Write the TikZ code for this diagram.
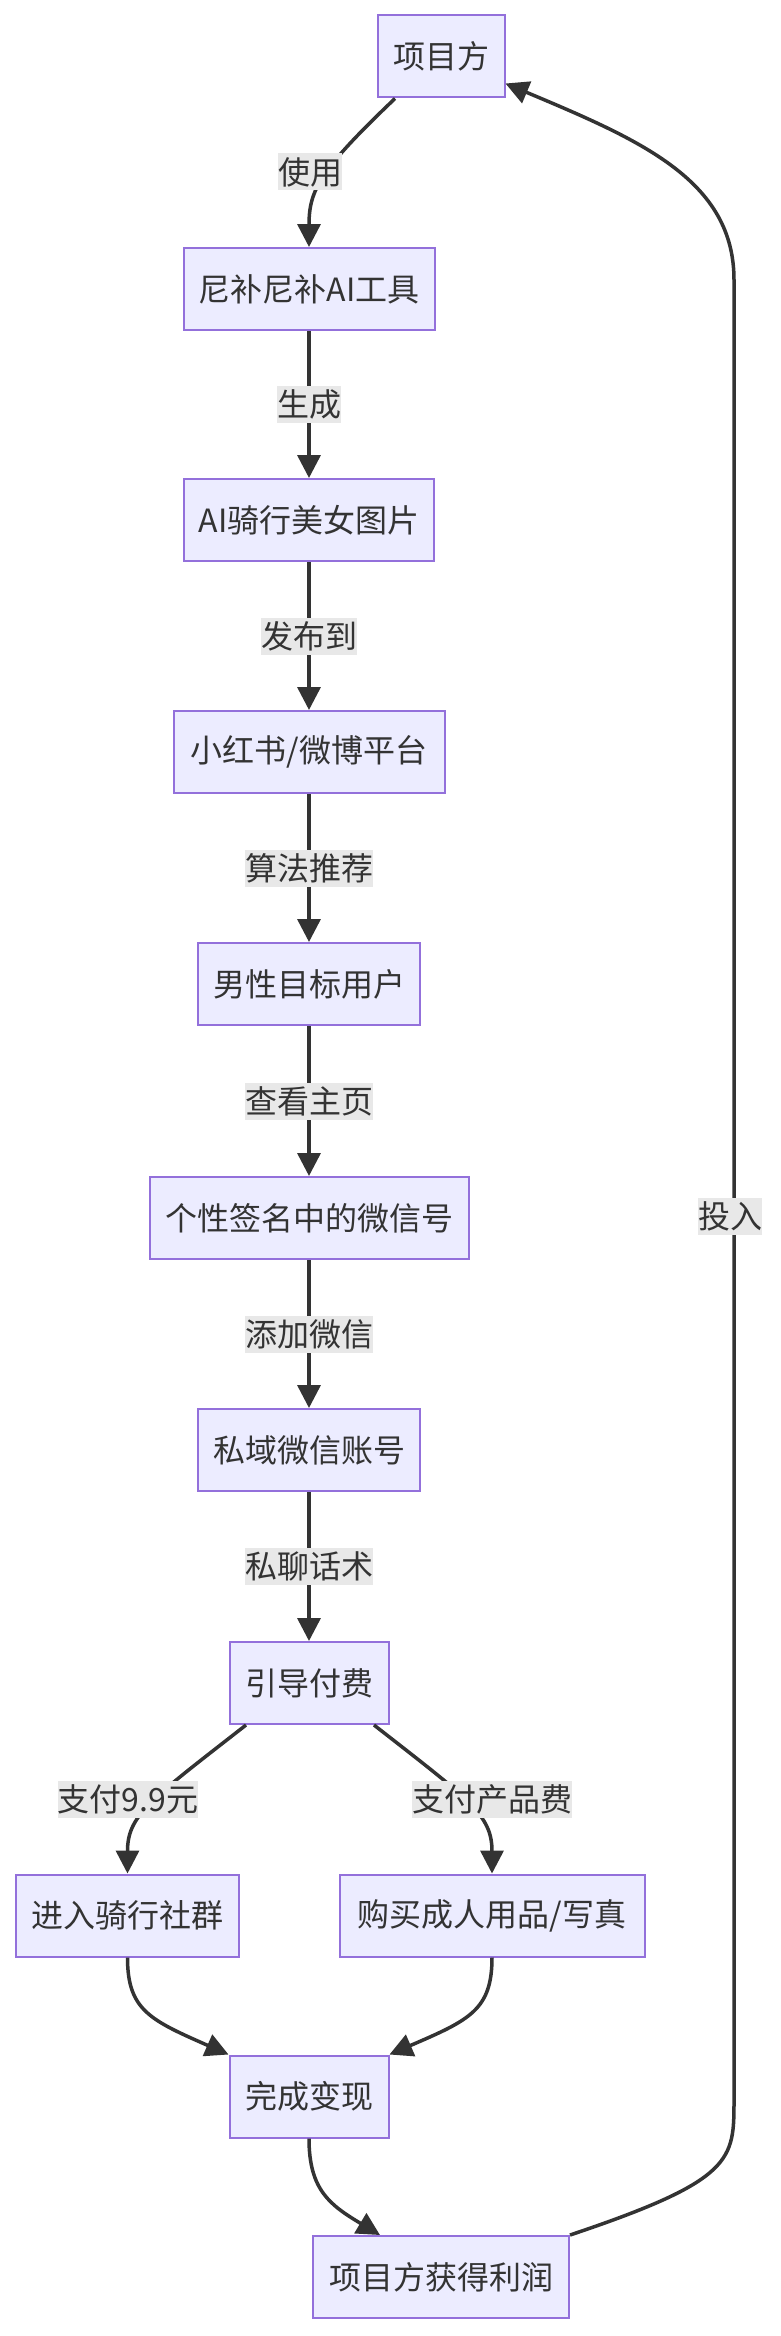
\documentclass[tikz,border=0pt]{standalone}
\usepackage{fontspec}
\setmainfont{Noto Sans CJK SC}
\usetikzlibrary{arrows.meta}
\definecolor{nodefill}{HTML}{ECECFF}
\definecolor{nodeline}{HTML}{9370DB}
\definecolor{edgecol}{HTML}{333333}
\definecolor{lblbg}{HTML}{E8E8E8}
\definecolor{txt}{HTML}{333333}
\tikzset{
  box/.style={draw=nodeline, line width=2pt, fill=nodefill, text=txt,
    font=\fontsize{32}{38}\selectfont, minimum height=82pt, inner xsep=15pt, inner ysep=0pt},
  lbl/.style={fill=lblbg, text=txt, font=\fontsize{32}{38}\selectfont,
    inner xsep=0pt, inner ysep=0pt, minimum height=37pt},
  edge/.style={draw=edgecol, line width=3.5pt, -{Triangle[length=23pt,width=23pt]}},
}
\begin{document}
\begin{tikzpicture}[x=1pt,y=-1pt]
\useasboundingbox[fill=white] (0,0) rectangle (780,2336);
% nodes
\node[box, minimum width=127pt] (p1) at (441,56.5) {项目方};
\node[box, minimum width=251pt] (n2) at (309,289) {尼补尼补AI工具};
\node[box, minimum width=249pt] (n3) at (309,520) {AI骑行美女图片};
\node[box, minimum width=271pt] (n4) at (309,752) {小红书/微博平台};
\node[box, minimum width=221.5pt] (n5) at (309,984) {男性目标用户};
\node[box, minimum width=319pt] (n6) at (309,1218) {个性签名中的微信号};
\node[box, minimum width=221.5pt] (n7) at (309,1450) {私域微信账号};
\node[box, minimum width=159pt] (n8) at (309,1683) {引导付费};
\node[box, minimum width=223pt] (n9) at (127.5,1915.5) {进入骑行社群};
\node[box, minimum width=305pt] (n10) at (492,1915.5) {购买成人用品/写真};
\node[box, minimum width=159pt] (n11) at (309,2096.5) {完成变现};
\node[box, minimum width=256pt] (n12) at (441,2277) {项目方获得利润};
% edges
\draw[edge] ([xshift=-46pt]p1.south) .. controls (320,170) and (309,190) .. (n2.north);
\draw[edge] (n2) -- node[lbl]{生成} (n3);
\draw[edge] (n3) -- node[lbl]{发布到} (n4);
\draw[edge] (n4) -- node[lbl]{算法推荐} (n5);
\draw[edge] (n5) -- node[lbl]{查看主页} (n6);
\draw[edge] (n6) -- node[lbl]{添加微信} (n7);
\draw[edge] (n7) -- node[lbl]{私聊话术} (n8);
\draw[edge] ([xshift=-63pt]n8.south) .. controls (150,1800) and (127.5,1815) .. (n9.north);
\draw[edge] ([xshift=65pt]n8.south) .. controls (470,1800) and (492,1815) .. (n10.north);
\draw[edge] (n9.south) .. controls (127.5,2010) and (150,2020) .. (n11.north west);
\draw[edge] (n10.south) .. controls (492,2010) and (469.5,2020) .. (n11.north east);
\draw[edge] (n11.south) .. controls (309,2190) and (330,2205) .. ([xshift=-61pt]n12.north);
\draw[edge] (n12.north east) .. controls (734,2180) and (734,2160) .. (734,2100)
  -- (734,280) .. controls (734,180) and (640,140) .. ([yshift=15pt]p1.south east);
% labels on curved edges
\node[lbl] (l1) at (310,172) {使用};
\node[lbl] (l8) at (128,1799) {支付9.9元};
\node[lbl] (l9) at (492,1799) {支付产品费};
\node[lbl] (l12) at (730,1216) {投入};
\end{tikzpicture}
\end{document}
